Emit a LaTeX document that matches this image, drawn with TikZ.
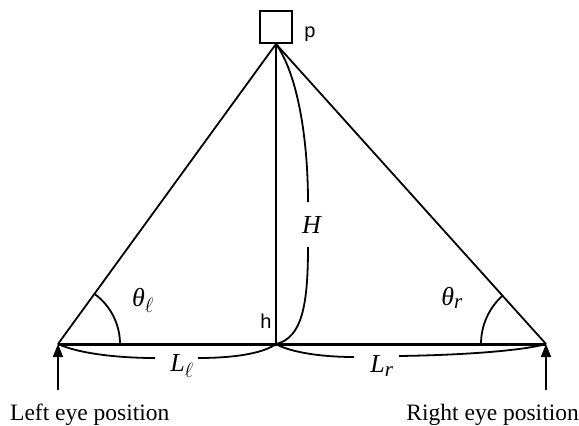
\documentclass[tikz,border=0pt]{standalone}
\usepackage{fontspec}
\setmainfont{Liberation Serif}
\newfontfamily\labsans{Liberation Sans}
\usetikzlibrary{arrows.meta}
\newcommand{\ti}[1]{\textit{#1}}
\newcommand{\subl}{\hbox{\fontsize{20}{24}\selectfont$\ell$}}
\newcommand{\subr}{\hbox{\fontsize{21}{24}\selectfont\itshape r}}
\begin{document}
\begin{tikzpicture}[x=1pt,y=-1pt,
  thinline/.style={line width=1.8pt},
  eyetext/.style={font=\fontsize{23.5}{26}\selectfont, inner sep=0pt},
  mathlab/.style={font=\fontsize{26}{30}\selectfont, inner sep=0pt},
  sanslab/.style={font=\labsans\fontsize{20}{22}\selectfont, inner sep=0pt},
  eyearrow/.style={line width=1.8pt, -{Triangle[length=13pt,width=10pt]}}]
\useasboundingbox (0,0) rectangle (579,426);
% points
\coordinate (P) at (276,44);
\coordinate (A) at (58,344);
\coordinate (B) at (546,344);
\coordinate (C) at (276,344);
\node[draw, thinline, minimum width=32pt, minimum height=32pt, inner sep=0pt, anchor=south] (box) at (P) {};
\node[sanslab] (plab) at (310,34) {p};
% lines
\draw[thinline] (P) -- (A);
\draw[thinline] (P) -- (B);
\draw[thinline] (P) -- (C);
\draw[line width=3pt] (A) -- (B);
% angle arcs
\draw[thinline] (A) ++(0:62) arc[start angle=0, end angle=-54, radius=62];
\draw[thinline] (B) ++(180:65) arc[start angle=180, end angle=228, radius=65];
\node[mathlab] (tl) at (143,300) {$\ti{θ}_{\subl}$};
\node[mathlab] (tr) at (452,298) {$\ti{θ}_{\subr}$};
% H curve
\node[mathlab] (Hlab) at (312,225) {\ti{H}};
\draw[thinline] (P) .. controls (298,75) and (308,140) .. (308,202);
\draw[thinline] (308,247) .. controls (308,305) and (302,338) .. (C);
\node[sanslab] (hlab) at (266,321) {h};
% L braces
\node[mathlab] (Ll) at (182,366) {$\ti{L}_{\subl}$};
\node[mathlab] (Lr) at (382,366) {$\ti{L}_{\subr}$};
\draw[thinline] (A) .. controls (80,354) and (120,358) .. (155,358);
\draw[thinline] (198,358) .. controls (240,358) and (265,352) .. (C);
\draw[thinline] (C) .. controls (290,352) and (320,357) .. (354,357);
\draw[thinline] (399,356) .. controls (470,355) and (525,350) .. (B);
% eye arrows
\coordinate (Ab) at (58,390);
\coordinate (Bb) at (546,390);
\draw[eyearrow] (Ab) -- (A);
\draw[eyearrow] (Bb) -- (B);
\node[eyetext, anchor=base west] (lt) at (10,420) {Left eye position};
\node[eyetext, anchor=base east] (rt) at (579,420) {Right eye position};
\end{tikzpicture}
\end{document}
